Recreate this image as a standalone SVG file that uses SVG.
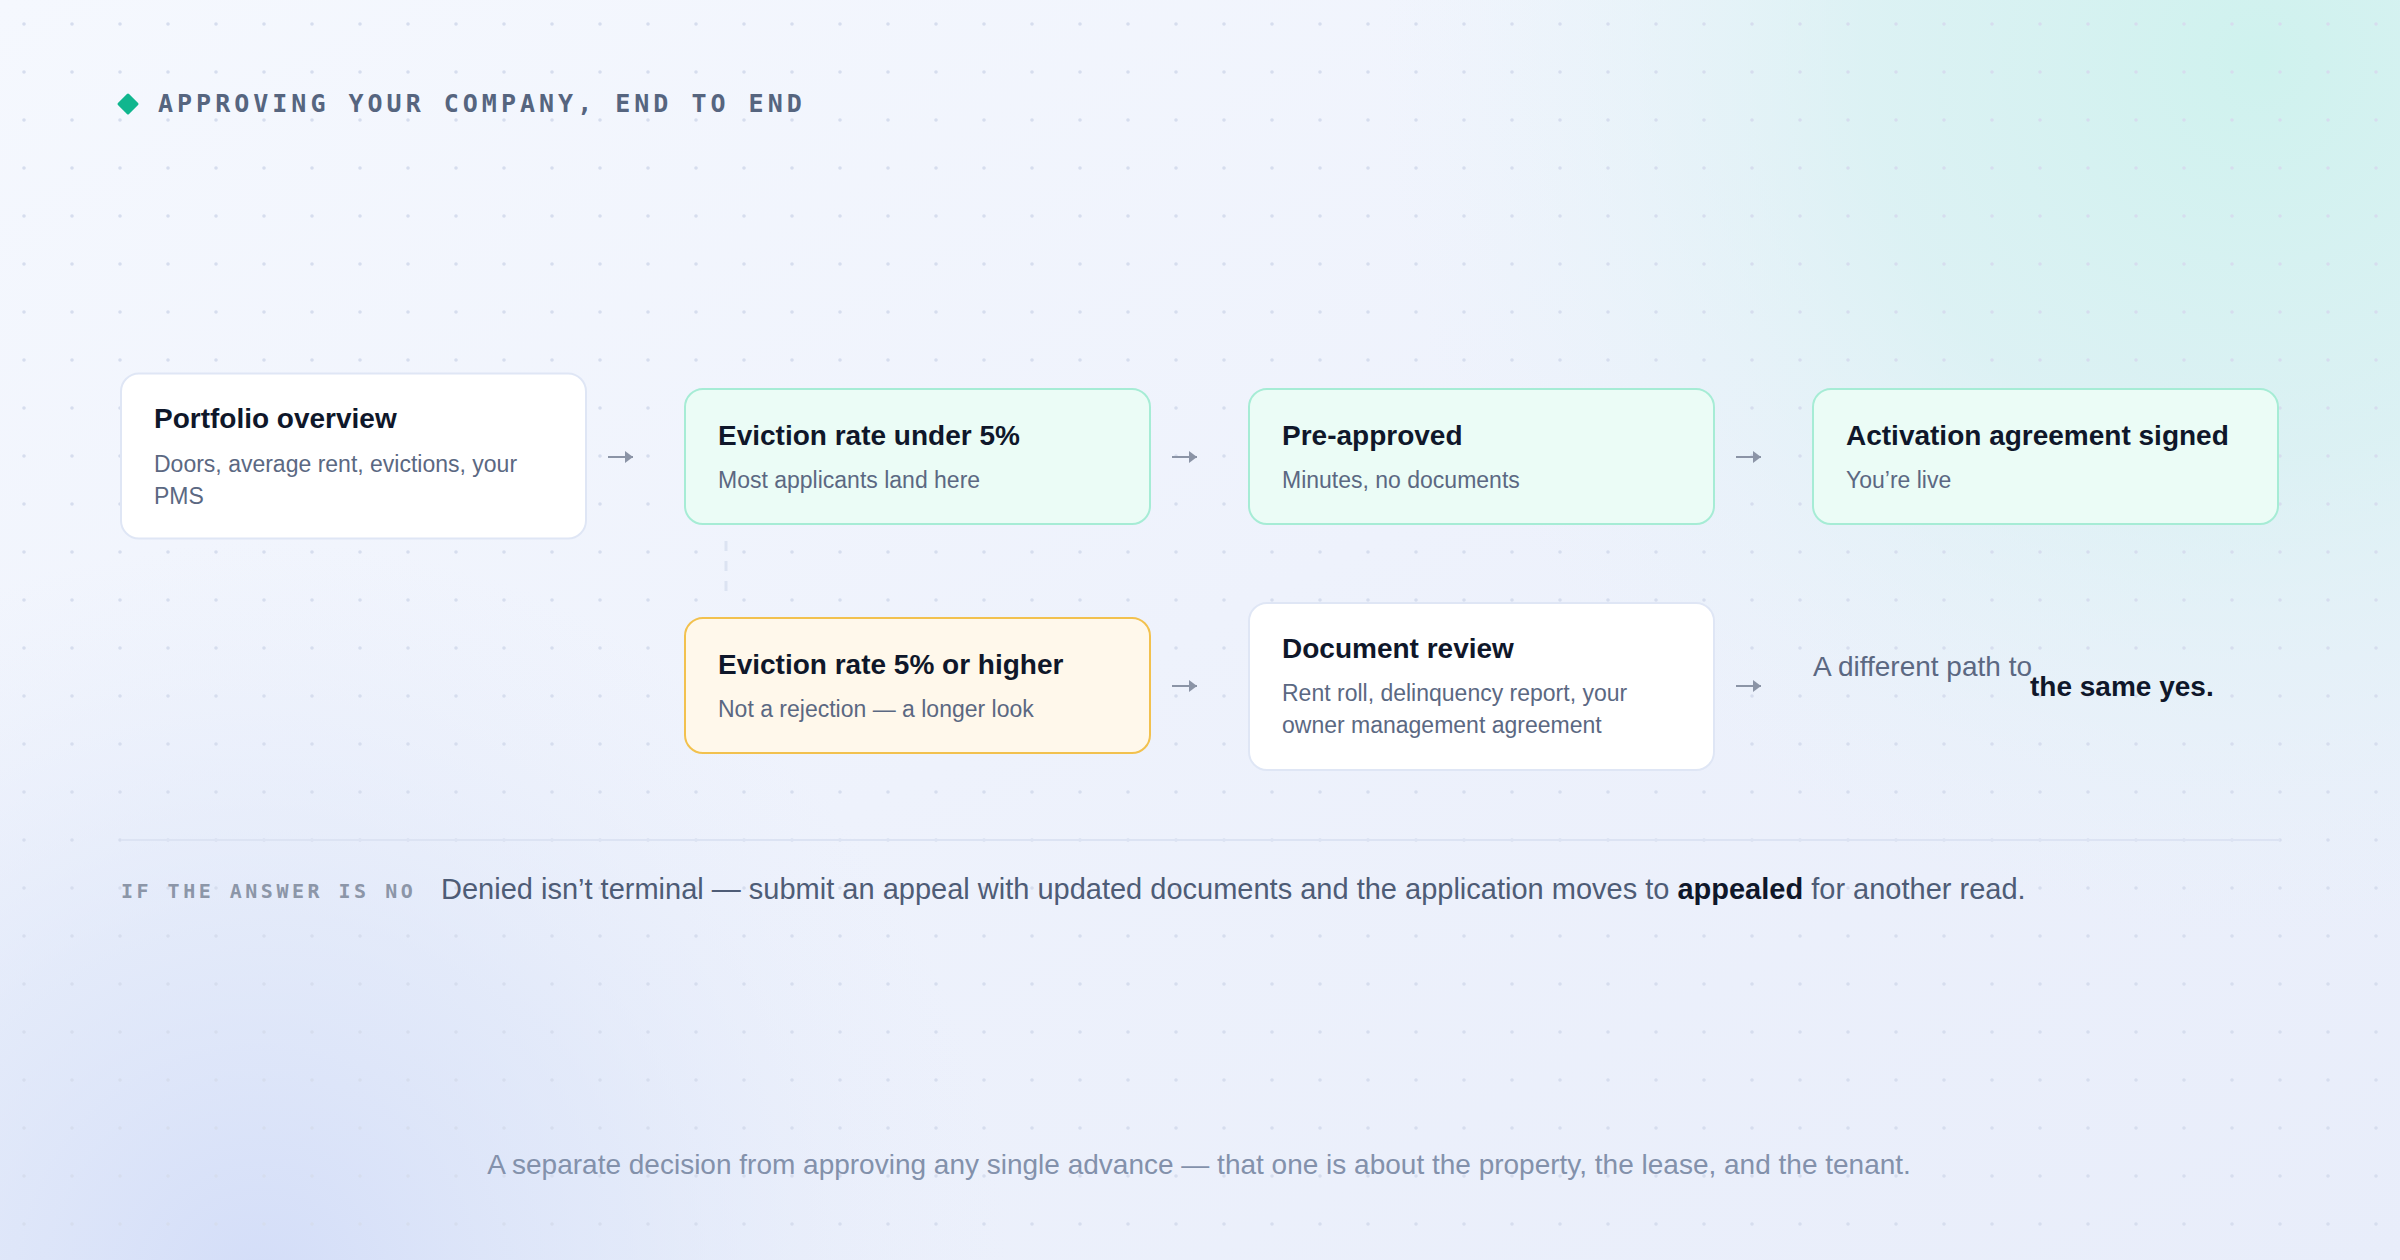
<svg xmlns="http://www.w3.org/2000/svg" width="2400" height="1260" viewBox="0 0 2400 1260">
  <defs>
    <linearGradient id="bg" x1="0" y1="0" x2="1" y2="1">
      <stop offset="0" stop-color="#f5f8fe"/>
      <stop offset="0.5" stop-color="#eef2fc"/>
      <stop offset="1" stop-color="#e8edfa"/>
    </linearGradient>
    <radialGradient id="glowTeal" gradientUnits="userSpaceOnUse" cx="2260" cy="60" r="880">
      <stop offset="0" stop-color="#cff2ee" stop-opacity="1"/>
      <stop offset="0.45" stop-color="#d6f1f1" stop-opacity="0.75"/>
      <stop offset="1" stop-color="#e6f3f8" stop-opacity="0"/>
    </radialGradient>
    <radialGradient id="glowBlue" gradientUnits="userSpaceOnUse" cx="260" cy="1290" r="750">
      <stop offset="0" stop-color="#d3ddf8" stop-opacity="1"/>
      <stop offset="0.5" stop-color="#dbe4f8" stop-opacity="0.6"/>
      <stop offset="1" stop-color="#e6ecfa" stop-opacity="0"/>
    </radialGradient>
    <pattern id="dots" width="48" height="48" patternUnits="userSpaceOnUse">
      <circle cx="24" cy="24" r="1.8" fill="#d6ddee"/>
    </pattern>
    <marker id="arrowHead" markerUnits="userSpaceOnUse" viewBox="0 0 8 12" refX="8" refY="6" markerWidth="8" markerHeight="12" orient="auto">
      <path d="M0,0 L8,6 L0,12 z" fill="#8b94a6"/>
    </marker>
    <style>
      .box-white { fill: #ffffff; stroke: #dfe6f5; stroke-width: 2; }
      .box-green { fill: #ebfcf6; stroke: #a6ecd5; stroke-width: 2; }
      .box-yellow { fill: #fff8eb; stroke: #f2c14e; stroke-width: 2; }
      .title { font-family: "Liberation Sans", Arial, Helvetica, sans-serif; font-weight: 700; font-size: 28px; fill: #0f172a; }
      .sub { font-family: "Liberation Sans", Arial, Helvetica, sans-serif; font-size: 23px; fill: #5b6882; }
      .arrow { stroke: #8b94a6; stroke-width: 2; fill: none; marker-end: url(#arrowHead); }
      .dash { stroke: #dce3f2; stroke-width: 3; stroke-dasharray: 10 10; fill: none; }
      .mono { font-family: "DejaVu Sans Mono", "Liberation Mono", monospace; font-weight: 700; }
    </style>
  </defs>

  <!-- background -->
  <rect x="0" y="0" width="2400" height="1260" fill="url(#bg)"/>
  <rect x="0" y="0" width="2400" height="1260" fill="url(#glowTeal)"/>
  <rect x="0" y="0" width="2400" height="1260" fill="url(#glowBlue)"/>
  <rect x="0" y="0" width="2400" height="1260" fill="url(#dots)"/>

  <!-- header -->
  <g id="header">
    <polygon points="128,95 137,104 128,113 119,104" fill="#10b68e" stroke="#10b68e" stroke-width="3" stroke-linejoin="round"/>
    <text x="158" y="112" class="mono" font-size="25" letter-spacing="4" fill="#56657f">APPROVING YOUR COMPANY, END TO END</text>
  </g>

  <!-- connectors -->
  <g id="connectors">
    <path class="arrow" d="M608,457 H633"/>
    <path class="arrow" d="M1172,457 H1197"/>
    <path class="arrow" d="M1736,457 H1761"/>
    <path class="arrow" d="M1172,686 H1197"/>
    <path class="arrow" d="M1736,686 H1761"/>
    <path class="dash" d="M726,541 V596"/>
  </g>

  <g id="node-portfolio">
    <rect class="box-white" x="121" y="373.5" width="465" height="165" rx="18"/>
    <text class="title" x="154" y="428">Portfolio overview</text>
    <text class="sub" x="154" y="472">Doors, average rent, evictions, your</text>
    <text class="sub" x="154" y="504">PMS</text>
  </g>

  <g id="node-under5">
    <rect class="box-green" x="685" y="389" width="465" height="135" rx="18"/>
    <text class="title" x="718" y="445">Eviction rate under 5%</text>
    <text class="sub" x="718" y="488">Most applicants land here</text>
  </g>

  <g id="node-preapproved">
    <rect class="box-green" x="1249" y="389" width="465" height="135" rx="18"/>
    <text class="title" x="1282" y="445">Pre-approved</text>
    <text class="sub" x="1282" y="488">Minutes, no documents</text>
  </g>

  <g id="node-activation">
    <rect class="box-green" x="1813" y="389" width="465" height="135" rx="18"/>
    <text class="title" x="1846" y="445">Activation agreement signed</text>
    <text class="sub" x="1846" y="488">You’re live</text>
  </g>

  <g id="node-over5">
    <rect class="box-yellow" x="685" y="618" width="465" height="135" rx="18"/>
    <text class="title" x="718" y="674">Eviction rate 5% or higher</text>
    <text class="sub" x="718" y="717">Not a rejection — a longer look</text>
  </g>

  <g id="node-docreview">
    <rect class="box-white" x="1249" y="603" width="465" height="167" rx="18"/>
    <text class="title" x="1282" y="658">Document review</text>
    <text class="sub" x="1282" y="701">Rent roll, delinquency report, your</text>
    <text class="sub" x="1282" y="733">owner management agreement</text>
  </g>

  <g id="node-sameyes">
    <text x="1813" y="676" font-family="Liberation Sans, Arial, sans-serif" font-size="28" fill="#5b6882">A different path to</text>
    <text x="2030" y="696" font-family="Liberation Sans, Arial, sans-serif" font-size="28" font-weight="700" fill="#0f172a">the same yes.</text>
  </g>

  <!-- separator and note -->
  <g id="note">
    <line x1="121" y1="840" x2="2280" y2="840" stroke="#dce3f3" stroke-width="2"/>
    <text x="121" y="898" class="mono" font-size="20" letter-spacing="3.5" fill="#8c96a8">IF THE ANSWER IS NO</text>
    <text x="441" y="899" font-family="Liberation Sans, Arial, sans-serif" font-size="29" fill="#4e5c76">Denied isn’t terminal — submit an appeal with updated documents and the application moves to <tspan font-weight="700" fill="#0f172a">appealed</tspan> for another read.</text>
  </g>

  <g id="footer">
    <text x="1199" y="1174" text-anchor="middle" font-family="Liberation Sans, Arial, sans-serif" font-size="28" fill="#8391ab">A separate decision from approving any single advance — that one is about the property, the lease, and the tenant.</text>
  </g>
</svg>
